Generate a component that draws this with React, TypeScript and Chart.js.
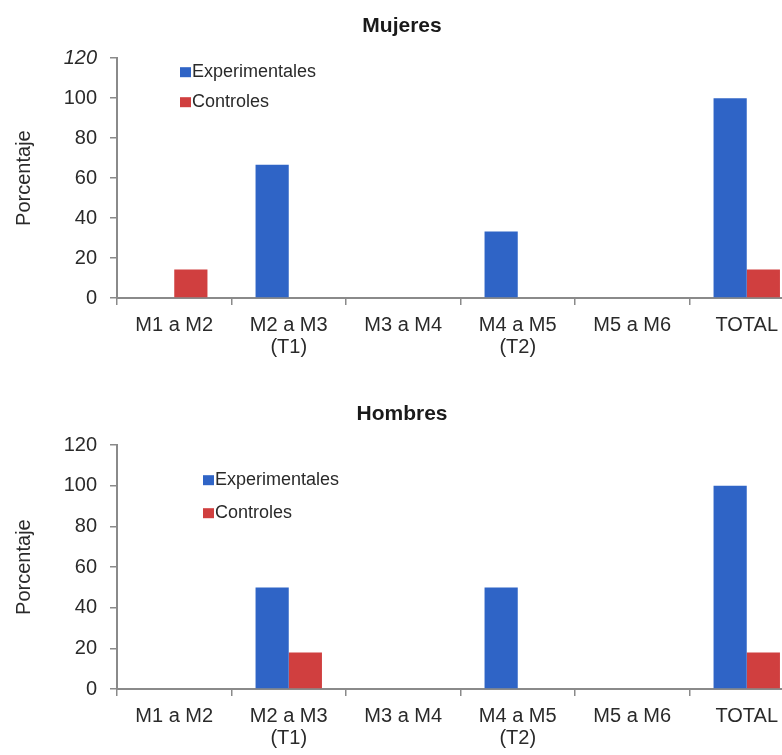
import React, { useEffect, useRef } from "react";
import { Chart, registerables } from "chart.js";

Chart.register(...registerables);

const categories: (string | string[])[] = [
  "M1 a M2",
  ["M2 a M3", "(T1)"],
  "M3 a M4",
  ["M4 a M5", "(T2)"],
  "M5 a M6",
  "TOTAL",
];
const seriesNames = ["Experimentales", "Controles"];
const mujeresExperimentales = [0, 66.7, 0, 33.3, 0, 100];
const mujeresControles = [14.3, 0, 0, 0, 0, 14.3];
const hombresExperimentales = [0, 50, 0, 50, 0, 100];
const hombresControles = [0, 18, 0, 0, 0, 18];
const yTicks = [0, 20, 40, 60, 80, 100, 120];

const BLUE = "#2f64c6";
const RED = "#d03f3f";
const TEXT = "#2a2a2a";
const AXIS = "#8a8a8a";
const FAMILY = "'Liberation Sans', Arial, Helvetica, sans-serif";

const insideLegend = {
  id: "insideLegend",
  afterDraw(chart: any, _args: any, opts: any) {
    const { ctx, chartArea } = chart;
    ctx.save();
    ctx.font = `18px ${FAMILY}`;
    ctx.textBaseline = "middle";
    ctx.textAlign = "left";
    chart.data.datasets.forEach((ds: any, i: number) => {
      const x = chartArea.left + opts.dx;
      const y = chartArea.top + opts.dy + i * opts.gap;
      ctx.fillStyle = ds.backgroundColor;
      ctx.fillRect(x, y - 5, 11, 10);
      ctx.fillStyle = TEXT;
      ctx.fillText(ds.label, x + 12, y);
    });
    ctx.restore();
  },
};

type Cfg = {
  title: string;
  exp: number[];
  ctrl: number[];
  titlePad: { top: number; bottom: number };
  xHeight: number;
  legend: { dx: number; dy: number; gap: number };
  italicTop: boolean;
};

function BarChart({ cfg, height }: { cfg: Cfg; height: number }) {
  const ref = useRef<HTMLCanvasElement>(null);
  useEffect(() => {
    if (!ref.current) return;
    const chart = new Chart(ref.current, {
      type: "bar",
      data: {
        labels: categories,
        datasets: [
          { label: seriesNames[0], data: cfg.exp, backgroundColor: BLUE },
          { label: seriesNames[1], data: cfg.ctrl, backgroundColor: RED },
        ],
      },
      plugins: [insideLegend],
      options: {
        responsive: false,
        animation: false,
        devicePixelRatio: 1,
        layout: { padding: { left: 0, right: 2, top: 0, bottom: 0 } },
        datasets: { bar: { categoryPercentage: 0.58, barPercentage: 1.0 } },
        plugins: {
          legend: { display: false },
          tooltip: { enabled: false },
          insideLegend: cfg.legend,
          title: {
            display: true,
            text: cfg.title,
            color: "#1a1a1a",
            font: { family: FAMILY, size: 21, weight: "bold" },
            padding: cfg.titlePad,
          },
        } as any,
        scales: {
          x: {
            grid: {
              display: true,
              drawOnChartArea: false,
              drawTicks: true,
              tickLength: 7,
              color: AXIS,
              lineWidth: 1.5,
            },
            border: { display: true, color: AXIS, width: 2 },
            ticks: {
              color: TEXT,
              font: { family: FAMILY, size: 20, lineHeight: 1.1 },
              padding: 9,
              maxRotation: 0,
              autoSkip: false,
            },
            afterFit: (s: any) => {
              s.height = cfg.xHeight;
            },
          },
          y: {
            min: 0,
            max: 120,
            afterBuildTicks: (s: any) => {
              s.ticks = yTicks.map((v) => ({ value: v }));
            },
            grid: {
              display: true,
              drawOnChartArea: false,
              drawTicks: true,
              tickLength: 7,
              color: AXIS,
              lineWidth: 1.5,
            },
            border: { display: true, color: AXIS, width: 2 },
            ticks: {
              color: TEXT,
              padding: 13,
              font: (c: any) => ({
                family: FAMILY,
                size: 20,
                style: cfg.italicTop && c.tick && c.tick.value === 120 ? "italic" : "normal",
              }),
            },
            title: {
              display: true,
              text: "Porcentaje",
              color: TEXT,
              font: { family: FAMILY, size: 20 },
              padding: { top: 12, bottom: 0 },
            },
            afterFit: (s: any) => {
              s.width = 117;
            },
          },
        },
      } as any,
    });
    return () => chart.destroy();
  }, [cfg]);
  return (
    <canvas
      ref={ref}
      width={806}
      height={height}
      style={{ display: "block", width: 806, height }}
    />
  );
}

const mujeresCfg: Cfg = {
  title: "Mujeres",
  exp: mujeresExperimentales,
  ctrl: mujeresControles,
  titlePad: { top: 14, bottom: 19 },
  xHeight: 80,
  legend: { dx: 63, dy: 14, gap: 30 },
  italicTop: true,
};

const hombresCfg: Cfg = {
  title: "Hombres",
  exp: hombresExperimentales,
  ctrl: hombresControles,
  titlePad: { top: 24, bottom: 18 },
  xHeight: 66,
  legend: { dx: 86, dy: 35, gap: 33 },
  italicTop: false,
};

export default function App() {
  return (
    <div
      style={{
        position: "fixed",
        left: 0,
        top: 0,
        width: 782,
        height: 755,
        overflow: "hidden",
        background: "#ffffff",
      }}
    >
      <BarChart cfg={mujeresCfg} height={378} />
      <BarChart cfg={hombresCfg} height={377} />
    </div>
  );
}
